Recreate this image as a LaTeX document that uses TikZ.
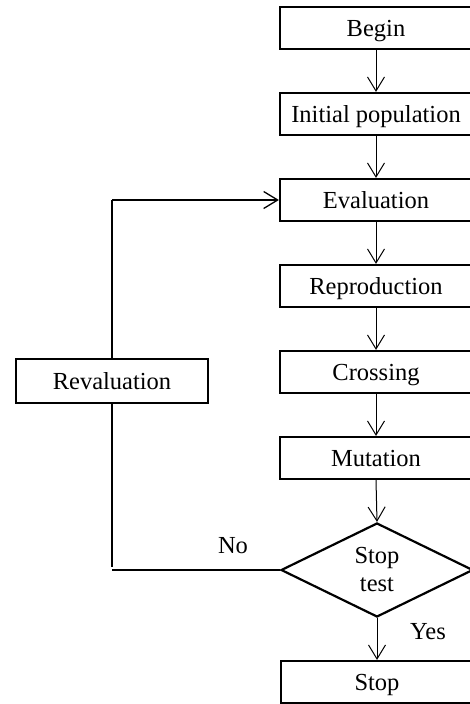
\documentclass[tikz,border=0pt]{standalone}
\usepackage{fontspec}
\setmainfont{Liberation Serif}
\usetikzlibrary{shapes.geometric,arrows.meta}
\begin{document}
\begin{tikzpicture}[x=1pt,y=-1pt,
  txt/.style={font=\fontsize{24.5}{28}\selectfont},
  stepbox/.style={txt,draw,line width=2.2pt,minimum width=192pt,minimum height=42pt,inner sep=0pt,text height=16.5pt,text depth=0pt},
  testbox/.style={txt,diamond,draw,line width=2.2pt,minimum width=192pt,minimum height=94pt,aspect=2.1,inner sep=0pt,align=center},
  flow/.style={line width=1pt,-{Straight Barb[length=14pt,width=17pt]}},
  loopline/.style={line width=1.8pt}]
\useasboundingbox (0,0) rectangle (469,704);
% main chain
\node[stepbox] (begin) at (376,28)  {Begin};
\node[stepbox] (init)  at (376,114) {Initial population};
\node[stepbox] (eval)  at (376,200) {Evaluation};
\node[stepbox] (repro) at (376,286) {Reproduction};
\node[stepbox] (cross) at (376,372) {Crossing};
\node[stepbox] (mut)   at (376,458) {Mutation};
\node[testbox] (test)  at (377,570) {Stop\\test};
\node[stepbox] (stop)  at (377,682) {Stop};
% side branch
\node[stepbox,minimum height=44pt] (reval) at (112,381) {Revaluation};
% connectors
\draw[flow] (begin) -- (init);
\draw[flow] (init) -- (eval);
\draw[flow] (eval) -- (repro);
\draw[flow] (repro) -- (cross);
\draw[flow] (cross) -- (mut);
\draw[flow] (mut.south) -- (test.north);
\draw[flow] (test.south) -- (test.south |- stop.north);
% feedback loop
\coordinate (ltop) at (reval.north |- eval.west);
\coordinate (lbend) at (reval.south |- test.west);
\coordinate (lend) at (112,567);
\draw[loopline] (reval.north) -- (ltop);
\draw[flow,line width=1.3pt] (ltop) -- (eval.west);
\draw[loopline] (reval.south) -- (lend);
\draw[loopline] (test.west) -- (lbend);
% branch labels
\node[txt] (no)  at (233,546) {No};
\node[txt] (yes) at (428,632) {Yes};
\end{tikzpicture}
\end{document}
